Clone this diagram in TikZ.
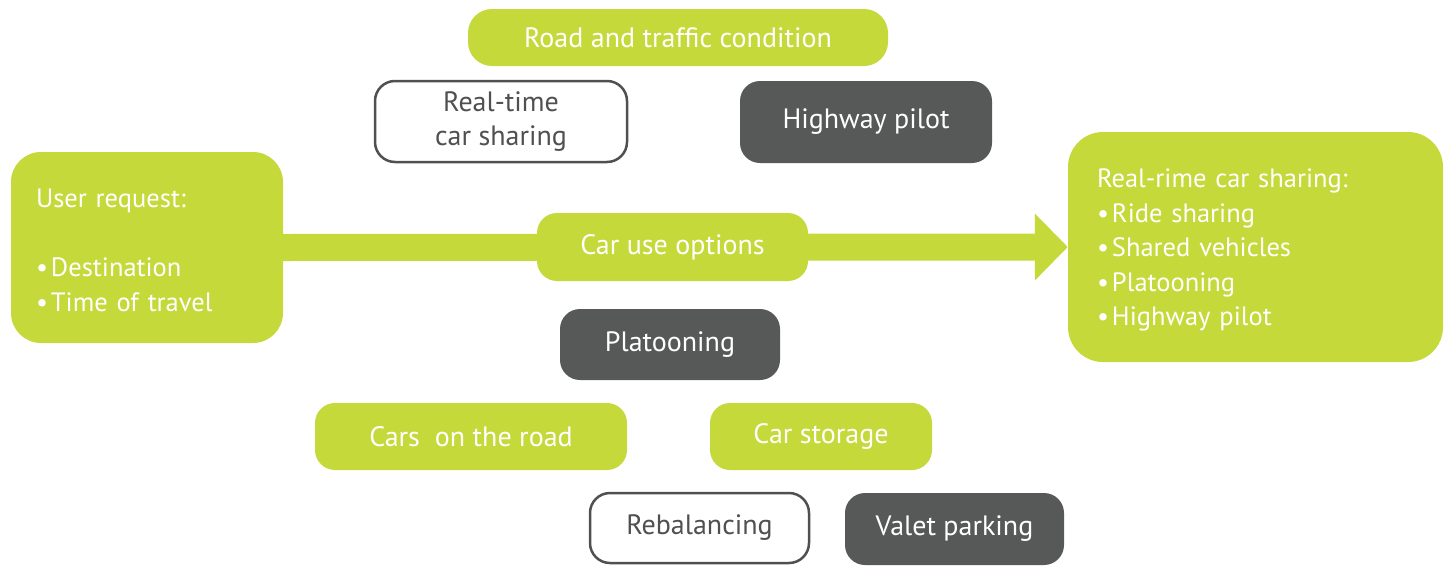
\documentclass[tikz,border=0pt]{standalone}
\usepackage{fontspec}
\setmainfont{PT Sans}
\usetikzlibrary{arrows.meta}
\definecolor{lime}{RGB}{197,217,58}
\definecolor{darkbox}{RGB}{87,89,88}
\definecolor{greytext}{RGB}{80,80,80}
\newcommand{\bul}{•\kern3pt}
\newcommand{\dropthree}[1]{\raisebox{-3pt}[\height][\depth]{#1}}
\begin{document}
\begin{tikzpicture}[x=1pt,y=-1pt,
  base/.style={rounded corners=20pt, inner sep=0pt, align=center,
    font=\fontsize{28}{34}\selectfont},
  greenbox/.style={base, fill=lime, text=white},
  darkbox/.style={base, fill=darkbox, text=white},
  whitebox/.style={base, draw=greytext, line width=2.5pt, fill=white, text=greytext},
  listbox/.style={fill=lime, text=white, align=left, inner ysep=0pt,
    font=\fontsize{26.5}{34.5}\selectfont}
]
\useasboundingbox (0,0) rectangle (1450,565);

\node[listbox, rounded corners=30pt, minimum width=272pt, minimum height=191pt,
  inner xsep=25pt, text width=222pt] (user) at (147,247.5)
  {\dropthree{\parbox{222pt}{User request:\\[34.5pt]\bul Destination\\\bul Time of travel}}};
\node[listbox, rounded corners=35pt, minimum width=375pt, minimum height=230pt,
  inner xsep=29pt, text width=317pt] (result) at (1255.5,247)
  {\dropthree{\parbox{317pt}{Real-rime car sharing:\\\bul Ride sharing\\\bul Shared vehicles\\\bul Platooning\\\bul Highway pilot}}};

\draw[lime, line width=27pt, -{Triangle[width=65pt,length=33pt]}]
  (user.east) -- (result.west);

\node[greenbox, rounded corners=24pt, minimum width=420pt, minimum height=57pt] (road) at (678,37.5) {Road and traffic condition};
\node[whitebox, minimum width=252pt, minimum height=81pt] (rtcs) at (501,121.5) {Real-time\\car sharing};
\node[darkbox, minimum width=252pt, minimum height=82pt] (hwy) at (866,122) {Highway pilot};
\node[greenbox, minimum width=271pt, minimum height=68pt] (cuo) at (672.5,247) {Car use options};
\node[darkbox, minimum width=220pt, minimum height=71pt] (plat) at (670,344.5) {Platooning};
\node[greenbox, minimum width=312pt, minimum height=67pt] (road2) at (471,436.5) {Cars\ \ on the road};
\node[greenbox, minimum width=222pt, minimum height=67pt] (stor) at (821,436.5) {Car storage};
\node[whitebox, minimum width=219pt, minimum height=70pt] (rebal) at (699.5,528) {Rebalancing};
\node[darkbox, minimum width=219pt, minimum height=72pt] (valet) at (954.5,529) {Valet parking};
\end{tikzpicture}
\end{document}
